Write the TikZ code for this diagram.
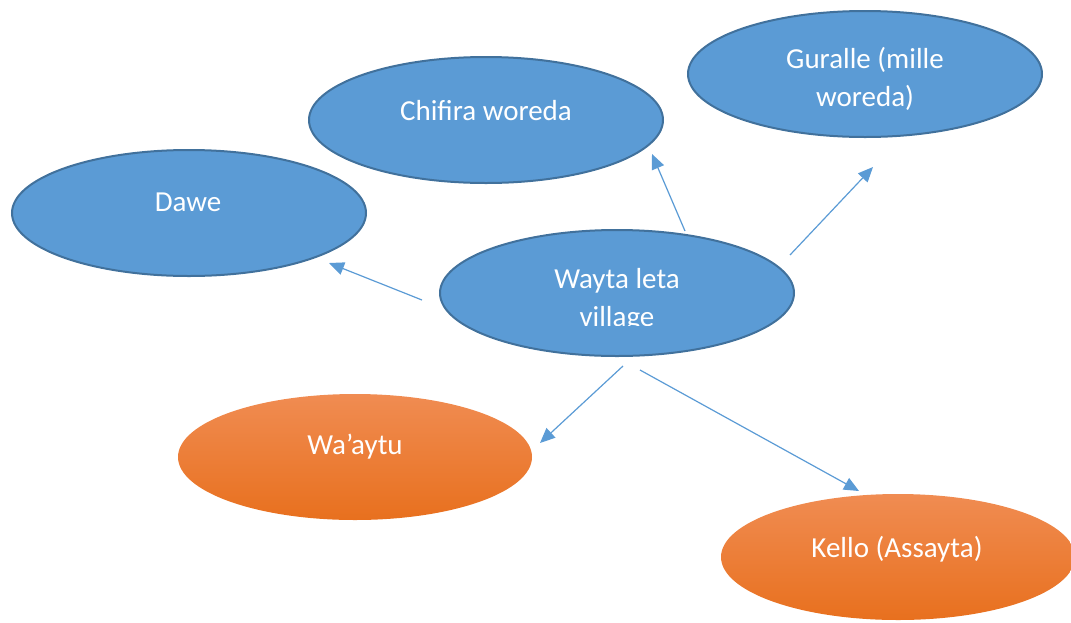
\documentclass[tikz,border=0pt]{standalone}
\usepackage{fontspec}
\setmainfont{Carlito}
\usetikzlibrary{shapes.geometric,arrows.meta}
\definecolor{placefill}{RGB}{91,155,213}
\definecolor{placeline}{RGB}{65,113,156}
\definecolor{ortop}{RGB}{240,140,82}
\definecolor{orbottom}{RGB}{232,112,30}
\tikzset{
    place/.style={ellipse, minimum width=354pt, minimum height=126pt, inner sep=0pt},
    bluePlace/.style={place, fill=placefill, draw=placeline, line width=2pt},
    orangePlace/.style={place, top color=ortop, bottom color=orbottom, draw=none},
    placeText/.style={text=white, align=center, font=\fontsize{29}{38}\selectfont},
    link/.style={draw=placefill, line width=1.2pt, -{Triangle[length=15pt,width=13pt]}}
}
\begin{document}
\begin{tikzpicture}[x=1pt,y=-1pt]
        \useasboundingbox (0,0) rectangle (1071,622);
        %\draw [help lines, step=50] (0,0) grid (1071,622);

        % the places
        \node [bluePlace] (dawe) at (189,213) {};
        \node [bluePlace] (chifira) at (486,120) {};
        \node [bluePlace] (guralle) at (865,74) {};
        \node [bluePlace] (wayta) at (617,293) {};
        \node [orangePlace] (waaytu) at (355,457) {};
        \node [orangePlace] (kello) at (898,557) {};

        % texts
        \node [placeText] (daweText) at (188,202) {Dawe};
        \node [placeText] (chifiraText) at (486,111) {Chifira woreda};
        \node [placeText] (guralleText) at (865,79) {Guralle (mille\\woreda)};
        \begin{scope}
            % the second line is cut off at the bottom
            \clip (440,230) rectangle (800,325);
            \node [placeText] (waytaText) at (617,300) {Wayta leta\\village};
        \end{scope}
        \node [placeText] (waaytuText) at (355,447) {Wa’aytu};
        \node [placeText] (kelloText) at (897,549) {Kello (Assayta)};

        % arrow ends
        \coordinate (toDaweS) at (422,300);
        \coordinate (toDaweE) at (329,263);
        \coordinate (toChifiraS) at (685,231);
        \coordinate (toChifiraE) at (652,154);
        \coordinate (toGuralleS) at (790,255);
        \coordinate (toGuralleE) at (873,167);
        \coordinate (toWaaytuS) at (623,366);
        \coordinate (toWaaytuE) at (540,443);
        \coordinate (toKelloS) at (640,370);
        \coordinate (toKelloE) at (859,491);

        \draw [link] (toDaweS) -- (toDaweE);
        \draw [link] (toChifiraS) -- (toChifiraE);
        \draw [link] (toGuralleS) -- (toGuralleE);
        \draw [link] (toWaaytuS) -- (toWaaytuE);
        \draw [link] (toKelloS) -- (toKelloE);
    \end{tikzpicture}
\end{document}
